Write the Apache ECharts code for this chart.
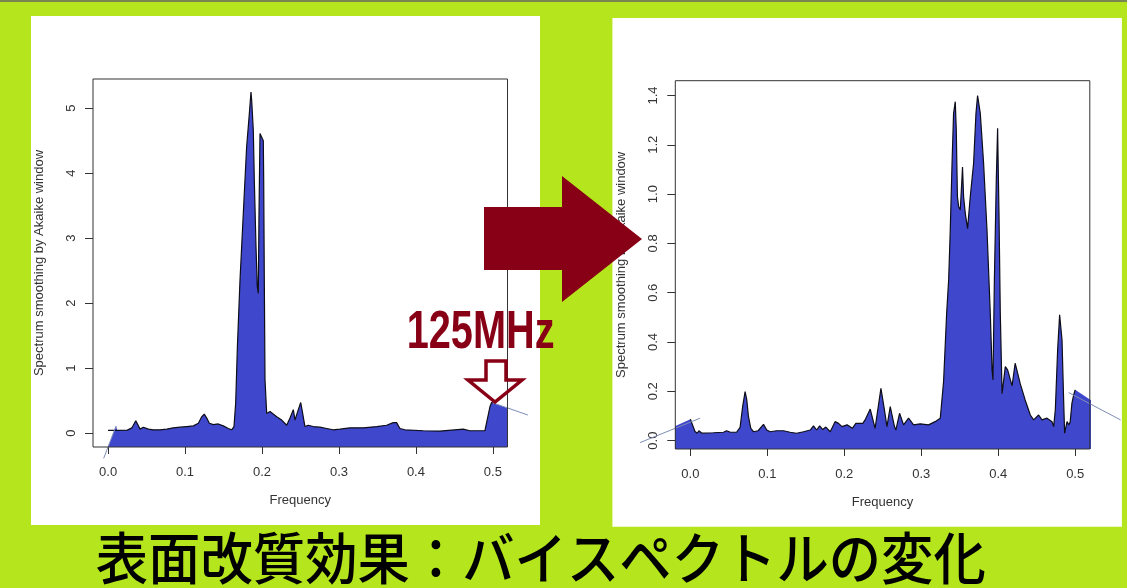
<!DOCTYPE html>
<html>
<head>
<meta charset="utf-8">
<script src="https://cdn.jsdelivr.net/npm/echarts@6/dist/echarts.min.js"></script>
<style>
  html, body { margin: 0; padding: 0; background: #b5e61d; }
  #chart { width: 1127px; height: 588px; }
</style>
</head>
<body>
<div id="chart"></div>
<script>
// Tick positions shared by both spectra
const freqTicks = [0, 0.1, 0.2, 0.3, 0.4, 0.5];
const beforeTicks = [0, 1, 2, 3, 4, 5];
const afterTicks = [0, 0.2, 0.4, 0.6, 0.8, 1.0, 1.2, 1.4];

// Smoothed spectrum before treatment: [frequency, power]
const beforeSpectrum = [
  [0.000,0.04],[0.012,0.04],[0.025,0.045],[0.031,0.08],[0.036,0.19],[0.0416,0.06],[0.0458,0.09],
  [0.0524,0.06],[0.0588,0.05],[0.0675,0.05],[0.0762,0.06],[0.0848,0.08],[0.0935,0.09],[0.1022,0.10],
  [0.1108,0.11],[0.1173,0.15],[0.1217,0.25],[0.125,0.29],[0.1282,0.23],[0.1316,0.15],[0.1368,0.13],
  [0.1432,0.14],[0.1497,0.11],[0.1562,0.07],[0.1606,0.05],[0.1636,0.10],[0.1658,0.46],[0.168,1.32],
  [0.1714,2.35],[0.1757,3.38],[0.180,4.4],[0.1835,4.91],[0.1857,5.25],[0.1866,5.12],[0.1887,4.66],
  [0.190,3.9],[0.1922,2.87],[0.1939,2.25],[0.1952,2.15],[0.1961,3.38],[0.1974,4.61],[0.1996,4.58],
  [0.2017,4.5],[0.2022,3.9],[0.203,2.35],[0.2039,0.82],[0.2061,0.30],[0.2104,0.33],[0.2191,0.25],
  [0.2256,0.20],[0.2321,0.12],[0.2364,0.23],[0.2407,0.36],[0.2429,0.20],[0.2458,0.31],[0.2503,0.47],
  [0.2529,0.30],[0.2558,0.10],[0.2601,0.12],[0.2666,0.10],[0.2753,0.09],[0.284,0.07],[0.2926,0.05],
  [0.3013,0.06],[0.3143,0.08],[0.3316,0.08],[0.349,0.10],[0.3619,0.12],[0.3705,0.16],[0.3749,0.16],
  [0.3792,0.07],[0.3857,0.05],[0.4095,0.035],[0.4312,0.03],[0.4614,0.06],[0.4701,0.035],[0.4896,0.035],
  [0.4918,0.005],[0.4961,0.40],[0.4983,0.47],[0.5,0.465]
];
// End-segment trend lines of the first spectrum
const beforeLeadIn = [[-0.0057,-0.39],[0.0104,0.11]];
const beforeRunOut = [[0.5,0.465],[0.5455,0.277]];

// Smoothed spectrum after treatment: [frequency, power]
const afterSpectrum = [
  [0.0,0.087],[0.006,0.037],[0.009,0.03],[0.011,0.04],[0.015,0.03],[0.03,0.032],[0.043,0.034],
  [0.047,0.04],[0.052,0.034],[0.06,0.034],[0.0646,0.054],[0.068,0.14],[0.0711,0.199],[0.0733,0.165],
  [0.0755,0.097],[0.0785,0.05],[0.082,0.036],[0.088,0.04],[0.095,0.066],[0.0993,0.043],[0.1036,0.036],
  [0.112,0.04],[0.121,0.04],[0.1296,0.034],[0.138,0.03],[0.147,0.036],[0.1557,0.043],[0.16,0.06],
  [0.164,0.043],[0.168,0.06],[0.172,0.045],[0.176,0.055],[0.1817,0.036],[0.188,0.077],[0.1925,0.07],
  [0.197,0.057],[0.2036,0.064],[0.2105,0.05],[0.215,0.07],[0.224,0.07],[0.227,0.084],[0.2337,0.128],
  [0.24,0.05],[0.2476,0.212],[0.2519,0.13],[0.2554,0.057],[0.2597,0.138],[0.2652,0.057],[0.267,0.043],
  [0.2718,0.111],[0.277,0.064],[0.2835,0.091],[0.29,0.064],[0.2987,0.068],[0.3095,0.064],[0.318,0.077],
  [0.3247,0.091],[0.329,0.24],[0.333,0.517],[0.3356,0.652],[0.3377,0.855],[0.34,1.125],[0.342,1.328],
  [0.3442,1.375],[0.3455,1.26],[0.347,0.99],[0.3485,0.95],[0.3507,0.936],[0.353,1.07],[0.3536,1.11],
  [0.355,0.99],[0.3572,0.922],[0.3602,0.86],[0.3637,0.99],[0.368,1.125],[0.3711,1.328],[0.3732,1.4],
  [0.3767,1.328],[0.381,1.125],[0.3854,0.855],[0.3897,0.517],[0.392,0.287],[0.3932,0.246],[0.395,0.652],
  [0.3975,1.057],[0.3992,1.267],[0.401,0.922],[0.4027,0.517],[0.405,0.19],[0.4092,0.30],[0.4122,0.287],
  [0.418,0.222],[0.422,0.314],[0.4244,0.32],[0.4287,0.23],[0.435,0.165],[0.4417,0.104],[0.446,0.084],
  [0.4525,0.104],[0.4569,0.084],[0.4634,0.091],[0.4699,0.077],[0.472,0.057],[0.4742,0.125],[0.4772,0.368],
  [0.4798,0.51],[0.4829,0.408],[0.485,0.165],[0.4863,0.03],[0.4894,0.077],[0.4915,0.064],[0.4935,0.075],
  [0.4958,0.152],[0.498,0.185],[0.5,0.206]
];
// End-segment trend lines of the second spectrum
const afterLeadIn = [[-0.0654,-0.008],[0.0126,0.091]];
const afterRunOut = [[0.4915,0.195],[0.559,0.084]];

// Filled polygons: trend line ends joined to the spectrum
const beforeArea = [beforeLeadIn[0], beforeLeadIn[1],
  ...beforeSpectrum.filter(p => p[0] > beforeLeadIn[1][0]), beforeRunOut[1]];
const afterArea = [afterLeadIn[0], ...afterSpectrum, afterRunOut[1]];

const FILL = '#3f48cc';
const INK = '#333';
const DARK_RED = '#880015';
const font = 'Liberation Sans, Arial, sans-serif';

// Plot boxes and their axis ranges
const panels = [
  { left: 93, top: 79, width: 414.5, height: 368, x: [-0.0196, 0.519], y: [-0.215, 5.45] },
  { left: 675.3, top: 80.7, width: 414.5, height: 368.3, x: [-0.0196, 0.519], y: [-0.034, 1.46] }
];
// A wider, invisible frame on the same scale as each box, so the trend
// lines can run past the box edges (kept inside the canvas).
const wideRange = [
  { x: [-0.08, 0.56], y: [-1, 6] },
  { x: [-0.08, 0.56], y: [-0.2, 1.6] }
];
function wideGrid(p, w) {
  const sx = p.width / (p.x[1] - p.x[0]);
  const sy = p.height / (p.y[1] - p.y[0]);
  return {
    left: p.left + (w.x[0] - p.x[0]) * sx,
    width: (w.x[1] - w.x[0]) * sx,
    top: p.top - (w.y[1] - p.y[1]) * sy,
    height: (w.y[1] - w.y[0]) * sy,
    show: false
  };
}

function xAxisFor(gi) {
  const p = panels[gi];
  return {
    gridIndex: gi, type: 'value', min: p.x[0], max: p.x[1],
    splitLine: { show: false }, axisLine: { show: false, onZero: false },
    axisTick: { show: true, customValues: freqTicks, length: 7, lineStyle: { color: INK } },
    axisLabel: { customValues: freqTicks, formatter: v => v.toFixed(1), margin: 19,
      color: INK, fontSize: 13, fontFamily: font },
    name: 'Frequency', nameLocation: 'middle', nameGap: 47,
    nameTextStyle: { color: INK, fontSize: 13, fontFamily: font }
  };
}
function yAxisFor(gi, ticks, fmt) {
  const p = panels[gi];
  return {
    gridIndex: gi, type: 'value', min: p.y[0], max: p.y[1],
    splitLine: { show: false }, axisLine: { show: false, onZero: false },
    axisTick: { show: true, customValues: ticks, length: 8, lineStyle: { color: INK } },
    axisLabel: { customValues: ticks, formatter: fmt, rotate: 90, margin: 15,
      color: INK, fontSize: 13, fontFamily: font },
    name: 'Spectrum smoothing by Akaike window', nameLocation: 'middle', nameGap: 47, nameRotate: 90,
    nameTextStyle: { color: INK, fontSize: 13, fontFamily: font }
  };
}
function hiddenAxis(gi, range) {
  return { gridIndex: gi, type: 'value', min: range[0], max: range[1], show: false,
    axisLine: { onZero: false }, splitLine: { show: false } };
}
function spectrumSeries(gi, area, curve, leadIn, runOut) {
  const base = { type: 'line', showSymbol: false, silent: true, animation: false };
  const wi = gi + 2;
  return [
    Object.assign({}, base, { xAxisIndex: gi, yAxisIndex: gi, data: area, clip: true,
      lineStyle: { width: 0 }, areaStyle: { color: FILL, opacity: 1, origin: 'start' }, z: 2 }),
    Object.assign({}, base, { xAxisIndex: gi, yAxisIndex: gi, data: curve, clip: true,
      lineStyle: { color: '#0d0d1a', width: 1.2 }, z: 3 }),
    Object.assign({}, base, { xAxisIndex: wi, yAxisIndex: wi, data: leadIn, clip: false,
      lineStyle: { color: '#7e8db5', width: 1 }, z: 4 }),
    Object.assign({}, base, { xAxisIndex: wi, yAxisIndex: wi, data: runOut, clip: false,
      lineStyle: { color: '#7e8db5', width: 1 }, z: 4 })
  ];
}

const chart = echarts.init(document.getElementById('chart'), null, { renderer: 'canvas' });
chart.setOption({
  backgroundColor: '#b5e61d',
  animation: false,
  grid: [
    ...panels.map(p => ({ left: p.left, top: p.top, width: p.width, height: p.height, show: true,
      borderColor: INK, borderWidth: 1, backgroundColor: 'rgba(0,0,0,0)', z: 5 })),
    wideGrid(panels[0], wideRange[0]),
    wideGrid(panels[1], wideRange[1])
  ],
  xAxis: [xAxisFor(0), xAxisFor(1), hiddenAxis(2, wideRange[0].x), hiddenAxis(3, wideRange[1].x)],
  yAxis: [
    yAxisFor(0, beforeTicks, v => String(v)),
    yAxisFor(1, afterTicks, v => v.toFixed(1)),
    hiddenAxis(2, wideRange[0].y), hiddenAxis(3, wideRange[1].y)
  ],
  series: [
    ...spectrumSeries(0, beforeArea, beforeSpectrum, beforeLeadIn, beforeRunOut),
    ...spectrumSeries(1, afterArea, afterSpectrum, afterLeadIn, afterRunOut)
  ],
  graphic: [
    // thin dark strip along the top edge
    { type: 'rect', z: -20, shape: { x: 0, y: 0, width: 1127, height: 2 }, style: { fill: '#7a8650' } },
    // white plot panels
    { type: 'rect', z: -10, shape: { x: 31, y: 16, width: 509, height: 509 }, style: { fill: '#ffffff' } },
    { type: 'rect', z: -10, shape: { x: 612.4, y: 18, width: 509.5, height: 508.7 }, style: { fill: '#ffffff' } },
    // big arrow between the panels
    { type: 'polygon', z: 100,
      shape: { points: [[484,207],[562,207],[562,176],[642,239],[562,302],[562,270],[484,270]] },
      style: { fill: DARK_RED } },
    // 125MHz callout
    { type: 'text', z: 101, x: 406.7, y: 333, scaleX: 0.735,
      style: { text: '125MHz', fill: DARK_RED, font: 'bold 54px "Liberation Sans", Arial, sans-serif',
        textAlign: 'left', textVerticalAlign: 'middle' } },
    { type: 'polygon', z: 101,
      shape: { points: [[486,361],[506,361],[506,380],[522,380],[495,402],[468,380],[486,380]] },
      style: { fill: 'none', stroke: DARK_RED, lineWidth: 3.5, lineJoin: 'miter' } },
    // caption
    { type: 'text', z: 101, x: 95.7, y: 558, scaleX: 0.935,
      style: { text: '表面改質効果：バイスペクトルの変化', fill: '#000',
        font: '500 56px "Noto Sans CJK JP", sans-serif', textAlign: 'left', textVerticalAlign: 'middle' } }
  ]
});
</script>
</body>
</html>
